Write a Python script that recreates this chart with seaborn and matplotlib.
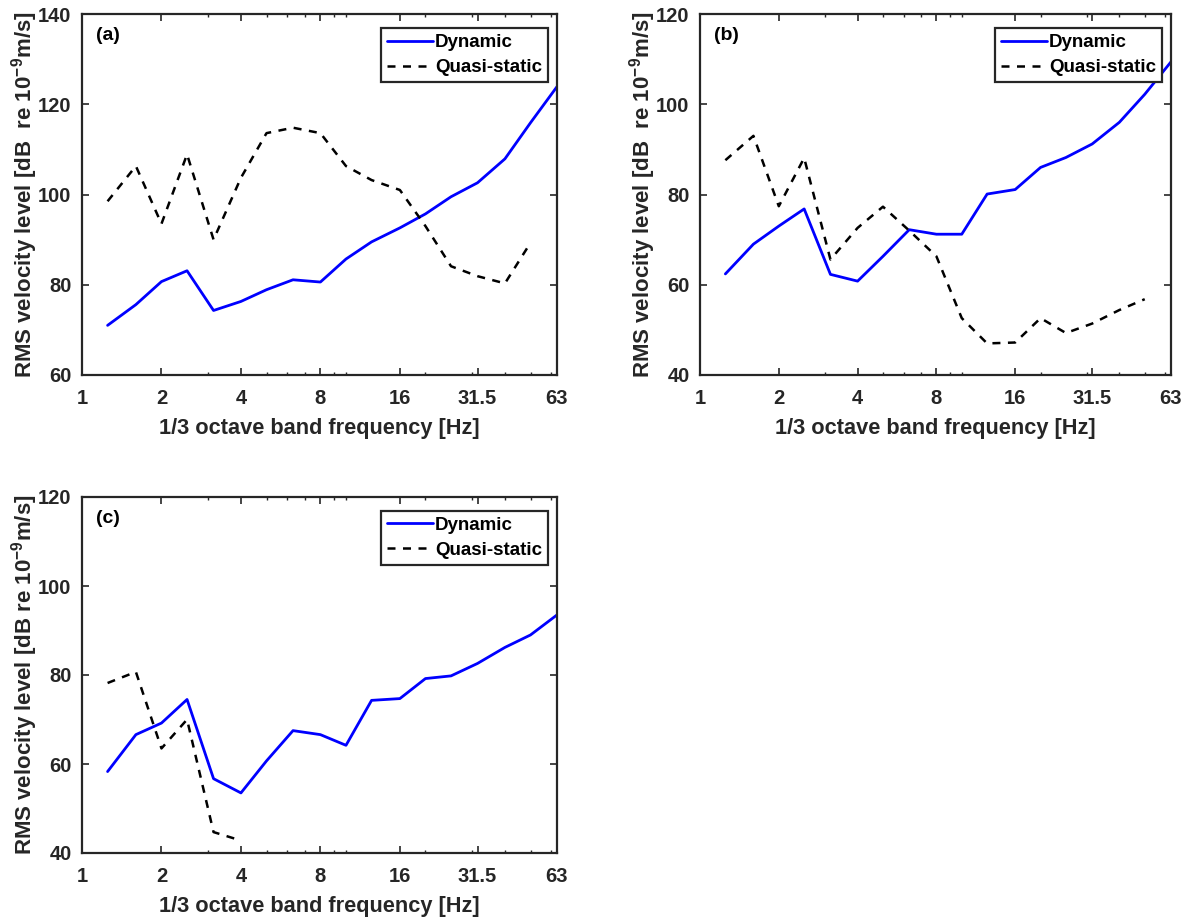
import numpy as np
import pandas as pd
import matplotlib
matplotlib.use("Agg")
import matplotlib.pyplot as plt
from matplotlib.ticker import FixedLocator, NullFormatter
import seaborn as sns

# 1/3 octave band centre frequencies (Hz) on the x axis
bands = [1.25, 1.6, 2, 2.5, 3.15, 4, 5, 6.3, 8, 10,
         12.5, 16, 20, 25, 31.5, 40, 50, 63]
tick_values = [1, 2, 4, 8, 16, 31.5, 63]
tick_labels = ['1', '2', '4', '8', '16', '31.5', '63']
minor_ticks = [3, 5, 6, 7, 9, 10, 20, 30, 40, 50, 60]

# Panel (a)
a_dynamic = [71.0, 75.6, 80.7, 83.1, 74.3, 76.3, 78.9, 81.1, 80.6, 85.7,
             89.5, 92.6, 95.7, 99.5, 102.6, 107.9, 115.9, 123.9]
a_quasi = [98.5, 106.3, 93.5, 108.9, 90.0, 103.7, 113.6, 114.8, 113.6, 106.3,
           103.2, 101.0, 93.0, 84.1, 81.9, 80.3, 89.3]
# Panel (b)
b_dynamic = [62.4, 69.0, 73.0, 76.8, 62.3, 60.8, 66.3, 72.2, 71.2, 71.2,
             80.1, 81.1, 86.0, 88.2, 91.2, 96.0, 102.2, 109.4]
b_quasi = [87.6, 93.0, 77.4, 88.1, 65.6, 72.6, 77.3, 72.0, 66.3, 52.6,
           47.0, 47.2, 52.6, 49.3, 51.4, 54.4, 56.8]
# Panel (c)
c_dynamic = [58.3, 66.6, 69.2, 74.5, 56.7, 53.5, 60.7, 67.5, 66.6, 64.2,
             74.3, 74.7, 79.2, 79.8, 82.6, 86.2, 89.0, 93.5]
c_quasi = [78.2, 80.7, 63.5, 70.0, 44.7, 42.8]

panel_labels = ['(a)', '(b)', '(c)']
ylims = [(60, 140), (40, 120), (40, 120)]
ylabels = ['RMS velocity level [dB  re 10$^{-9}$m/s]',
           'RMS velocity level [dB  re 10$^{-9}$m/s]',
           'RMS velocity level [dB re 10$^{-9}$m/s]']
xlabel = '1/3 octave band frequency [Hz]'
series_names = ['Dynamic', 'Quasi-static']

sns.set_theme(style='ticks')
plt.rcParams['font.family'] = ['Liberation Sans', 'DejaVu Sans']
plt.rcParams['font.weight'] = 'bold'
plt.rcParams['mathtext.fontset'] = 'custom'
plt.rcParams['mathtext.rm'] = 'Liberation Sans:bold'
plt.rcParams['mathtext.it'] = 'Liberation Sans:bold'
plt.rcParams['mathtext.bf'] = 'Liberation Sans:bold'
plt.rcParams['mathtext.default'] = 'rm'

txt = '#262626'
fig = plt.figure(figsize=(11.93, 9.18), dpi=100)
W, H = 1193, 918
rects = [(82, 14, 557, 375), (700, 14, 1171, 375), (82, 497, 557, 853)]
axes = [fig.add_axes([l / W, 1 - b / H, (r - l) / W, (b - t) / H]) for (l, t, r, b) in rects]

data = [(a_dynamic, a_quasi), (b_dynamic, b_quasi), (c_dynamic, c_quasi)]

for ax, (dyn, qs), lab, yl, ylab, rect in zip(axes, data, panel_labels, ylims, ylabels, rects):
    df_d = pd.DataFrame({'freq': bands[:len(dyn)], 'level': dyn})
    df_q = pd.DataFrame({'freq': bands[:len(qs)], 'level': qs})
    sns.lineplot(data=df_d, x='freq', y='level', ax=ax, color='#0000ff',
                 linewidth=2.0, label=series_names[0])
    sns.lineplot(data=df_q, x='freq', y='level', ax=ax, color='black',
                 linewidth=1.8, linestyle=(0, (3.2, 3.0)), label=series_names[1])
    ax.set_xscale('log')
    ax.set_xlim(tick_values[0], tick_values[-1])
    ax.set_ylim(*yl)
    ax.xaxis.set_major_locator(FixedLocator(tick_values))
    ax.set_xticklabels(tick_labels)
    ax.xaxis.set_minor_locator(FixedLocator(minor_ticks))
    ax.xaxis.set_minor_formatter(NullFormatter())
    ax.set_yticks(np.arange(yl[0], yl[1] + 1, 20))
    ax.tick_params(which='major', direction='in', top=True, right=True, length=5,
                   width=1.2, labelsize=14.5, colors=txt)
    ax.tick_params(which='minor', direction='in', top=True, right=True, length=2.5,
                   width=1.0, colors=txt)
    ax.tick_params(axis='x', which='major', pad=10)
    ax.tick_params(axis='y', which='major', pad=7.5)
    for lbl in ax.get_xticklabels() + ax.get_yticklabels():
        lbl.set_fontweight('bold')
        lbl.set_color(txt)
    for s in ax.spines.values():
        s.set_linewidth(1.6)
        s.set_color(txt)
    ax.set_xlabel(xlabel, fontsize=15.7, fontweight='bold', color=txt, labelpad=7)
    ax.set_ylabel(ylab, fontsize=16, fontweight='bold', color=txt)
    ax.yaxis.set_label_coords(-42.0 / (rect[2] - rect[0]), 0.5)
    ax.text(0.03, 0.94, lab, transform=ax.transAxes, fontsize=14,
            fontweight='bold', color='black', va='center', ha='left')
    leg = ax.legend(loc='upper right', bbox_to_anchor=(0.98, 0.96), fontsize=13.5,
                    frameon=True, fancybox=False, edgecolor='#262626', framealpha=1,
                    handlelength=2.5, handletextpad=0.08, borderpad=0.3,
                    labelspacing=0.42, borderaxespad=0)
    leg.get_frame().set_linewidth(1.6)
    for t in leg.get_texts():
        t.set_fontweight('bold')
        t.set_color('black')

fig.savefig('out.png', dpi=100)
